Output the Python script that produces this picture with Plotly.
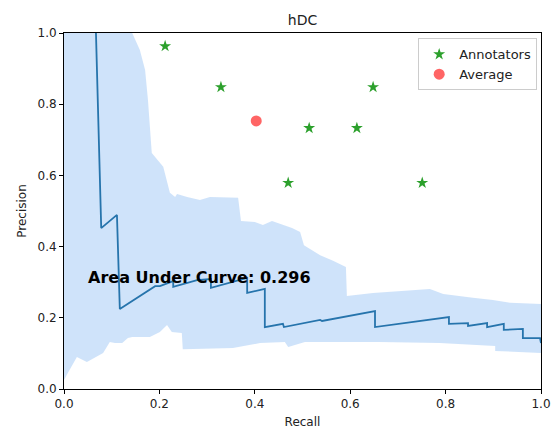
import plotly.graph_objects as go

# Precision-recall curve (mean)
curve_recall = [0.067, 0.078, 0.111, 0.113, 0.117, 0.191, 0.201, 0.229, 0.229, 0.279, 0.308, 0.308,
                0.384, 0.384, 0.421, 0.421, 0.459, 0.461, 0.537, 0.541, 0.652, 0.652, 0.807, 0.807,
                0.847, 0.847, 0.887, 0.887, 0.922, 0.922, 0.962, 0.962, 0.998, 1.0]
curve_precision = [1.0, 0.452, 0.489, 0.419, 0.225, 0.289, 0.289, 0.303, 0.287, 0.306, 0.309, 0.284,
                   0.312, 0.270, 0.281, 0.174, 0.183, 0.174, 0.194, 0.191, 0.219, 0.174, 0.202, 0.183,
                   0.185, 0.177, 0.185, 0.174, 0.183, 0.166, 0.169, 0.143, 0.143, 0.129]

# Band upper edge
upper_recall = [0.0, 0.143, 0.159, 0.170, 0.176, 0.182, 0.184, 0.208, 0.216, 0.222, 0.233, 0.237,
                0.258, 0.285, 0.306, 0.327, 0.365, 0.371, 0.400, 0.417, 0.436, 0.478, 0.495, 0.503,
                0.537, 0.564, 0.591, 0.593, 0.648, 0.767, 0.795, 0.857, 0.899, 0.935, 1.0]
upper_precision = [1.0, 1.0, 0.952, 0.896, 0.812, 0.699, 0.663, 0.624, 0.579, 0.551, 0.539, 0.548,
                   0.539, 0.531, 0.539, 0.539, 0.537, 0.472, 0.469, 0.461, 0.472, 0.452, 0.441, 0.404,
                   0.376, 0.360, 0.343, 0.261, 0.270, 0.281, 0.267, 0.256, 0.250, 0.242, 0.239]

# Band lower edge
lower_recall = [0.0, 0.008, 0.027, 0.048, 0.082, 0.096, 0.107, 0.122, 0.134, 0.143, 0.180, 0.201,
                0.216, 0.226, 0.247, 0.249, 0.354, 0.411, 0.463, 0.470, 0.505, 0.662, 0.788, 0.857,
                0.904, 0.904, 1.0]
lower_precision = [0.025, 0.045, 0.090, 0.076, 0.101, 0.132, 0.129, 0.129, 0.143, 0.146, 0.146, 0.160,
                   0.180, 0.160, 0.157, 0.112, 0.115, 0.129, 0.132, 0.118, 0.132, 0.132, 0.129, 0.124,
                   0.121, 0.107, 0.101]

# Annotators and average
annot_recall = [0.212, 0.329, 0.648, 0.514, 0.614, 0.470, 0.751]
annot_precision = [0.963, 0.848, 0.848, 0.733, 0.733, 0.579, 0.579]
avg_recall = [0.403]
avg_precision = [0.753]

auc_text = "Area Under Curve: 0.296"

FONT = "DejaVu Sans"

fig = go.Figure()

fig.add_trace(go.Scatter(
    x=upper_recall + lower_recall[::-1],
    y=upper_precision + lower_precision[::-1],
    fill="toself", fillcolor="rgba(160,200,245,0.5)",
    line=dict(width=0), mode="lines", showlegend=False, hoverinfo="skip"))

fig.add_trace(go.Scatter(
    x=curve_recall, y=curve_precision, mode="lines",
    line=dict(color="#2674ac", width=1.8), showlegend=False))

fig.add_trace(go.Scatter(
    x=annot_recall, y=annot_precision, mode="markers", name="Annotators",
    marker=dict(symbol="star", size=9, color="#2ca02c")))

fig.add_trace(go.Scatter(
    x=avg_recall, y=avg_precision, mode="markers", name="Average",
    marker=dict(symbol="circle", size=11, color="rgba(255,50,50,0.75)")))

fig.add_annotation(x=0.05, y=0.3, xref="x", yref="y", text="<b>" + auc_text + "</b>",
                   showarrow=False, xanchor="left", yanchor="bottom", yshift=-7, xshift=-2,
                   font=dict(family=FONT, size=16, color="black"))

axis_common = dict(
    range=[0, 1], showgrid=False, zeroline=False, automargin=False,
    showline=True, linecolor="black", linewidth=1, mirror=True,
    ticks="outside", ticklen=4, tickcolor="black", tickwidth=1,
    tickfont=dict(family=FONT, size=12, color="#222"),
    dtick=0.2, tickformat=".1f",
)

fig.update_layout(
    width=554, height=429,
    margin=dict(l=64, r=13, t=33, b=40),
    paper_bgcolor="white", plot_bgcolor="white",
    title=dict(text="hDC", x=(64 + 541) / 2 / 554, xanchor="center", y=1 - 20 / 429, yanchor="middle",
               font=dict(family=FONT, size=14, color="#222"), automargin=False),
    xaxis=dict(axis_common, title=dict(text="Recall", font=dict(family=FONT, size=12, color="#222"), standoff=10)),
    yaxis=dict(axis_common, title=dict(text="Precision", font=dict(family=FONT, size=12, color="#222"), standoff=8)),
    legend=dict(x=0.992, y=0.985, xanchor="right", yanchor="top",
                bgcolor="rgba(255,255,255,0.8)", bordercolor="#ccc", borderwidth=1,
                font=dict(family=FONT, size=13, color="#222"),
                itemwidth=30, tracegroupgap=0),
    showlegend=True,
)

fig.write_html("out.html")
